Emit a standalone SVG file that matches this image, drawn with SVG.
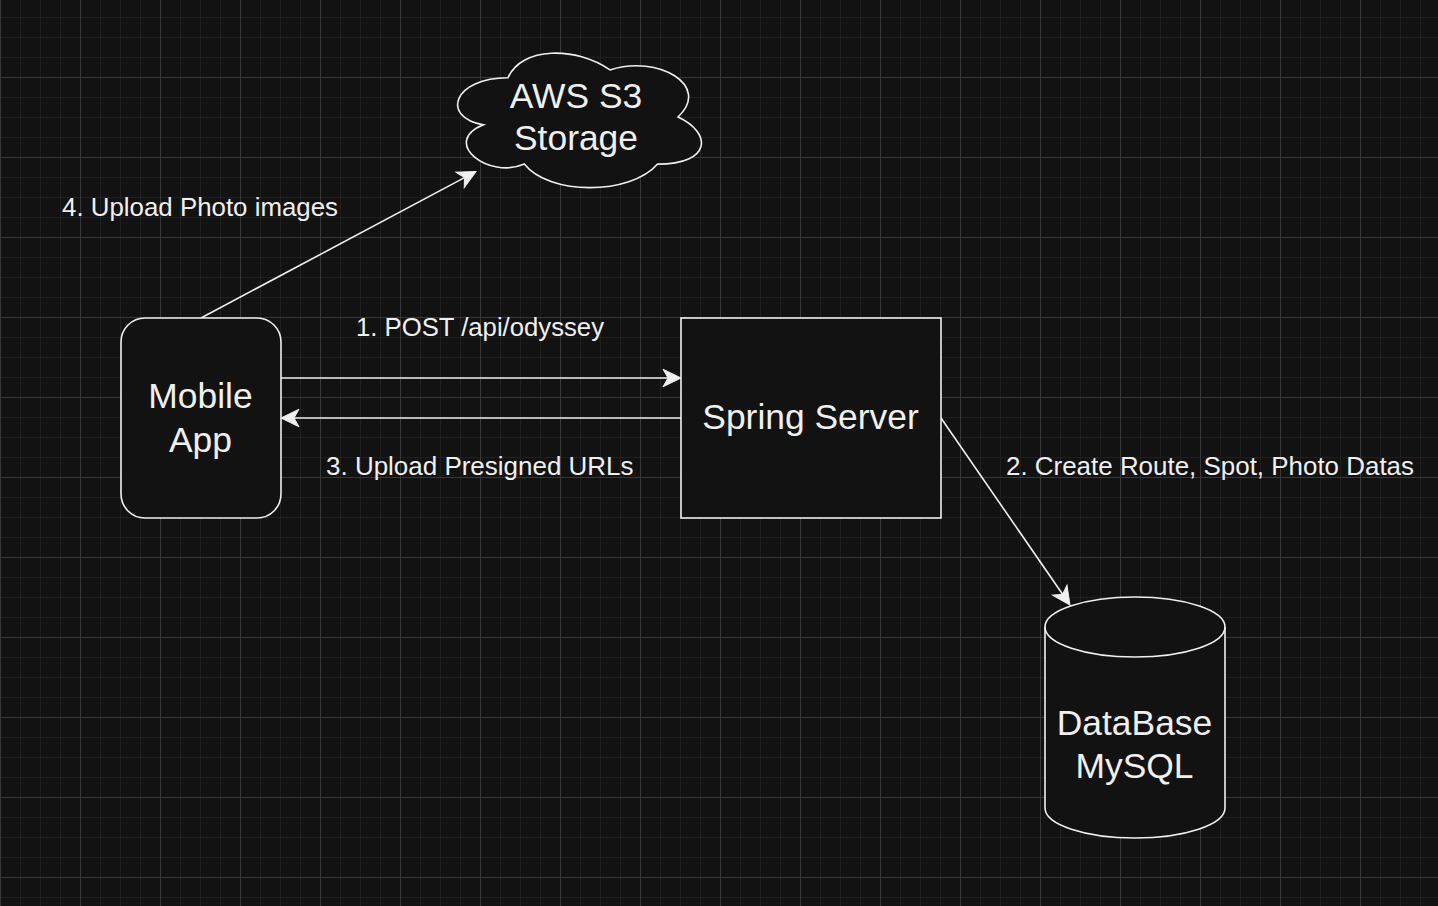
<svg xmlns="http://www.w3.org/2000/svg" width="1438" height="906" viewBox="0 0 1438 906">
  <defs>
    <pattern id="grid" patternUnits="userSpaceOnUse" x="0" y="-3" width="80" height="80">
      <rect width="80" height="80" fill="#121212"/>
      <path d="M20.5,0V80M40.5,0V80M60.5,0V80M0,20.5H80M0,40.5H80M0,60.5H80" stroke="#1f1f1f" stroke-width="1" fill="none"/>
      <path d="M0.5,0V80M0,0.5H80" stroke="#383838" stroke-width="1" fill="none"/>
    </pattern>
    <marker id="arrow" markerUnits="userSpaceOnUse" orient="auto" refX="0" refY="0" markerWidth="30" markerHeight="30" overflow="visible">
      <path d="M13,0 L-5,-8.8 L0,0 L-5,8.8 Z" fill="#f0f0f0" stroke="#f0f0f0" stroke-width="1" stroke-linejoin="miter"/>
    </marker>
    <style>
      .shape { fill: #121212; stroke: #f0f0f0; stroke-width: 1.6; }
      .edge { fill: none; stroke: #f0f0f0; stroke-width: 1.6; marker-end: url(#arrow); }
      .node-text { font-family: "Liberation Sans", Arial, sans-serif; font-size: 35.4px; fill: #f0f0f0; text-anchor: middle; }
      .edge-text { font-family: "Liberation Sans", Arial, sans-serif; font-size: 25.8px; fill: #f0f0f0; }
    </style>
  </defs>
  <rect x="0" y="0" width="1438" height="906" fill="url(#grid)"/>

  <g id="connectors">
    <path class="edge" d="M281,378 L668,378"/>
    <path class="edge" d="M681,418 L294,418"/>
    <path class="edge" d="M941,418 L1062.6,594.3"/>
    <path class="edge" d="M201,318 L464.5,177.6"/>
    <text class="edge-text" x="356" y="335.7" textLength="248" lengthAdjust="spacingAndGlyphs">1. POST /api/odyssey</text>
    <text class="edge-text" x="326" y="475" textLength="307.5" lengthAdjust="spacingAndGlyphs">3. Upload Presigned URLs</text>
    <text class="edge-text" x="1006" y="475" textLength="408" lengthAdjust="spacingAndGlyphs">2. Create Route, Spot, Photo Datas</text>
    <text class="edge-text" x="62" y="215.7" textLength="276" lengthAdjust="spacingAndGlyphs">4. Upload Photo images</text>
  </g>

  <g id="node-s3">
    <path class="shape" d="M508,77.75 C453.6,77.75 440,117 483.5,124.85 C440,142.12 488.96,179.8 524.32,164.1 C548.8,195.5 630.4,195.5 657.6,164.1 C712,164.1 712,132.7 678,117 C712,85.6 657.6,54.2 610,69.9 C576,46.35 521.6,46.35 508,77.75 Z"/>
    <text class="node-text" x="576" y="108">AWS S3</text>
    <text class="node-text" x="576" y="150">Storage</text>
  </g>

  <g id="node-mobile">
    <rect class="shape" x="121" y="318" width="160" height="200" rx="24" ry="24"/>
    <text class="node-text" x="200.5" y="408.3">Mobile</text>
    <text class="node-text" x="200.5" y="451.7">App</text>
  </g>

  <g id="node-spring">
    <rect class="shape" x="681" y="318" width="260" height="200"/>
    <text class="node-text" x="810.5" y="429.3">Spring Server</text>
  </g>

  <g id="node-db">
    <path class="shape" d="M1045,627 A90,30 0 0 1 1225,627 L1225,808 A90,30 0 0 1 1045,808 Z"/>
    <path class="shape" d="M1045,627 A90,30 0 0 0 1225,627" style="fill:none"/>
    <text class="node-text" x="1134.5" y="735">DataBase</text>
    <text class="node-text" x="1134.5" y="778">MySQL</text>
  </g>
</svg>
